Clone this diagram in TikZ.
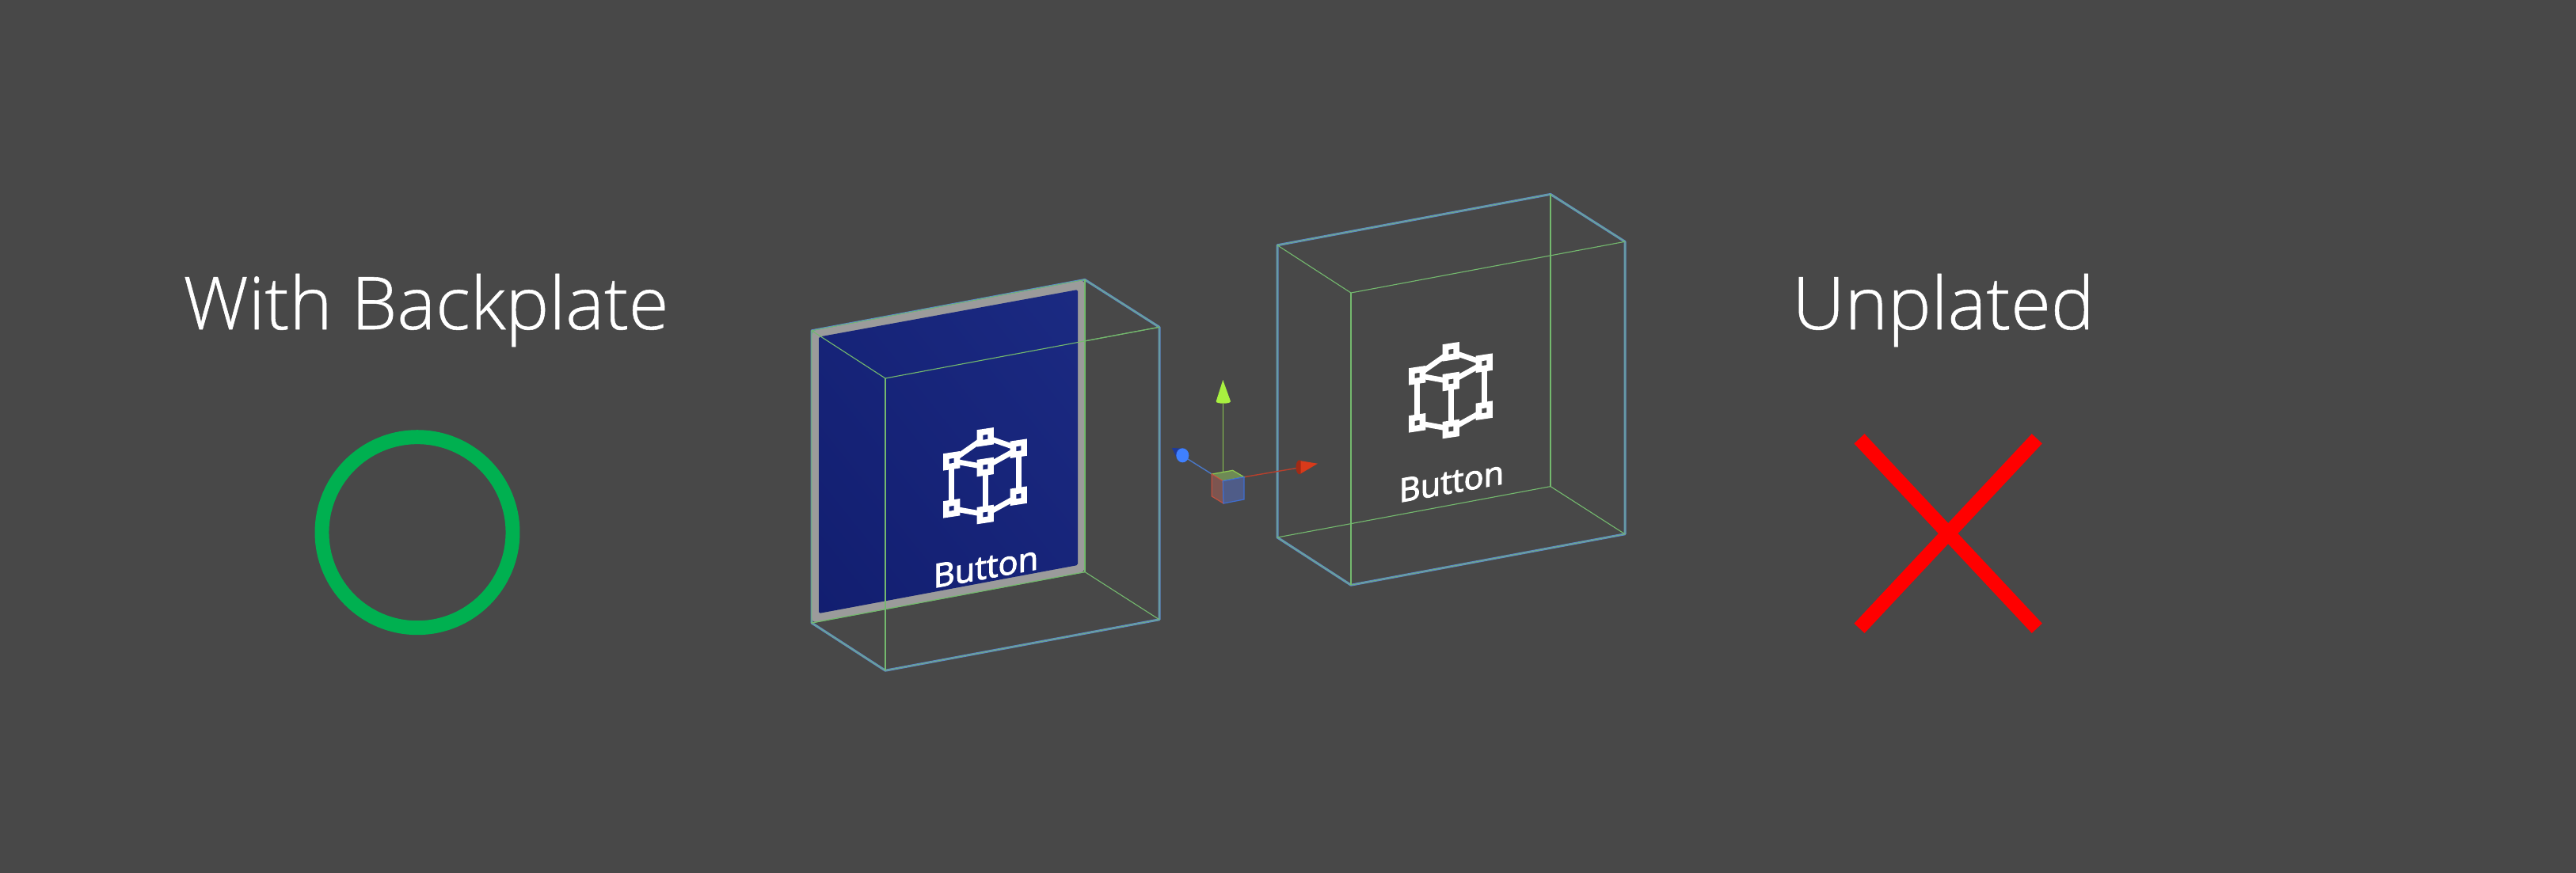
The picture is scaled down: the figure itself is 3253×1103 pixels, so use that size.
\documentclass[tikz,border=0pt]{standalone}
\usepackage{fontspec}
\setmainfont{Open Sans}
\newfontfamily\headfont[FakeBold=0.6]{Open Sans Light}
\newfontfamily\btnfont[FakeBold=2.5]{Open Sans}
\usetikzlibrary{positioning}
\usetikzlibrary{shadings}
\definecolor{bgray}{HTML}{484848}
\definecolor{wiregreen}{HTML}{74B96E}
\definecolor{wireblue}{HTML}{5F8CC4}
\definecolor{rimgray}{HTML}{9B9B9B}
\definecolor{plateup}{HTML}{1B2A82}
\definecolor{platelow}{HTML}{121E70}
\definecolor{okgreen}{HTML}{00B050}
\definecolor{axisred}{HTML}{B8402C}
\definecolor{axisgreen}{HTML}{8CC850}
\definecolor{axisblue}{HTML}{4A78C8}
\definecolor{conered}{HTML}{D83A1A}
\definecolor{basered}{HTML}{A02A15}
\definecolor{conegreen}{HTML}{A8F040}
\definecolor{ballblue}{HTML}{3F80FF}
\definecolor{tailblue}{HTML}{1E3A9A}
\definecolor{facetop}{HTML}{6E8A55}
\definecolor{faceleft}{HTML}{7D5550}
\definecolor{faceright}{HTML}{4F5C88}
\definecolor{edgered}{HTML}{C0503F}
\definecolor{edgeblue}{HTML}{3F6ED0}
\tikzset{
  heading/.style={font=\headfont\fontsize{26.2pt}{32pt}\selectfont,text=white,anchor=base,inner sep=0pt},
  btntext/.style={font=\btnfont\fontsize{11.8pt}{14pt}\selectfont,text=white,anchor=base,inner sep=0pt,yslant=0.18},
  rim/.style={line width=0.85pt,wireblue},
  rimcore/.style={line width=0.18pt,wiregreen},
  wire/.style={line width=0.32pt,wiregreen},
  link/.style={line width=1.9pt,white,shorten >=2.6pt,shorten <=2.6pt},
  handle/.pic={
    \fill[white,even odd rule] (-10.6,-9.1) -- (10.6,-12.3) -- (10.6,9.1) -- (-10.6,12.3) -- cycle
      (-3,-2.5) -- (3,-3.5) -- (3,2.5) -- (-3,3.5) -- cycle;
  },
  wirebox/.pic={
    \coordinate (a) at (1025,417.8);
    \coordinate (b) at (1370,353.4);
    \coordinate (c) at (1464,413.3);
    \coordinate (d) at (1118,478);
    \coordinate (e) at (1025,787);
    \coordinate (f) at (1370,722.6);
    \coordinate (g) at (1464,782.8);
    \coordinate (h) at (1118,847.2);
    \draw[rim,line join=round] (a) -- (b) -- (c) -- (g) -- (h) -- (e) -- cycle;
    \draw[rimcore] (a) -- (b) -- (c) -- (g) -- (h) -- (e) -- cycle;
    \draw[wire] (a) -- (d) -- (c);
    \draw[wire] (e) -- (f) -- (g);
    \draw[wire] (b) -- (f);
    \draw[wire] (d) -- (h);
  },
  cubeicon/.pic={
    \coordinate (k1) at (1244.3,552.3);
    \coordinate (k2) at (1286.3,566.7);
    \coordinate (k3) at (1201.7,582.3);
    \coordinate (k4) at (1244.3,590);
    \coordinate (k5) at (1201.7,642.3);
    \coordinate (k6) at (1244.3,650);
    \coordinate (k7) at (1286.3,626.7);
    \draw[link] (k3) -- (k1);
    \draw[link] (k1) -- (k2);
    \draw[link] (k2) -- (k4);
    \draw[link] (k4) -- (k3);
    \draw[link] (k3) -- (k5);
    \draw[link] (k5) -- (k6);
    \draw[link] (k6) -- (k7);
    \draw[link] (k7) -- (k2);
    \draw[link] (k4) -- (k6);
    \pic at (k1) {handle};
    \pic at (k2) {handle};
    \pic at (k3) {handle};
    \pic at (k4) {handle};
    \pic at (k5) {handle};
    \pic at (k6) {handle};
    \pic at (k7) {handle};
    \node[btntext] (btn) at (1245,731) {Button};
  }
}
\begin{document}
\begin{tikzpicture}[x=0.01cm,y=-0.01cm]
\useasboundingbox (0,0) rectangle (3253,1103);
\fill[bgray] (0,0) rectangle (3253,1103);

\node[heading] (backplate) at (538,416) {With Backplate};
\node[heading] (unplated) at (2454,416) {Unplated};

\draw[okgreen,line width=5.1pt] (527,672.7) circle (120.5);
\draw[red,line width=5.1pt] (2348,554.3) -- (2572.3,793.8);
\draw[red,line width=5.1pt] (2572.3,554.3) -- (2348,793.8);

\pic at (0,0) {wirebox};
\fill[rimgray,rounded corners=1.6pt] (1025.2,418.2) -- (1369.8,354) -- (1369.8,722.8) -- (1025.2,786.6) -- cycle;
\shade[lower left=platelow,upper right=plateup,upper left=platelow!50!plateup,lower right=platelow!50!plateup,rounded corners=0.5pt]
  (1034,425.7) -- (1361,366) -- (1361,714) -- (1034,775) -- cycle;
\draw[rimcore] (e) -- (a) -- (b);
\draw[wire] (a) -- (d) -- (c);
\draw[wire] (e) -- (f);
\draw[wire] (b) -- (f);
\draw[wire] (d) -- (h);
\pic at (0,0) {cubeicon};

\pic at (588,-108) {wirebox};
\pic at (588,-108) {cubeicon};

\draw[axisblue,line width=0.4pt] (1530.3,599) -- (1500,580);
\fill[tailblue] (1480,566) -- (1495,566.7) -- (1485.7,578) -- cycle;
\fill[ballblue] (1493.3,575.3) ellipse (8 and 9);
\draw[axisgreen,line width=0.4pt] (1544.3,607.7) -- (1544.3,510);
\fill[conegreen] (1544.3,480) -- (1554,507) -- (1535.7,507) -- cycle;
\fill[conegreen] (1544.8,507.5) ellipse (9 and 2.2);
\draw[axisred,line width=0.4pt] (1571,602.7) -- (1640,591);
\fill[basered] (1641,590.3) ellipse (4.5 and 9);
\fill[conered] (1664,585.7) -- (1642.7,582.3) -- (1642.7,598.3) -- cycle;

\filldraw[draw=axisgreen,fill=facetop,line width=0.35pt] (1544.3,607.7) -- (1530.3,599) -- (1556.7,594.3) -- (1571,602.7) -- cycle;
\filldraw[draw=edgered,fill=faceleft,line width=0.35pt] (1544.3,607.7) -- (1530.3,599) -- (1530.3,627) -- (1545,636) -- cycle;
\filldraw[draw=edgeblue,fill=faceright,line width=0.35pt] (1544.3,607.7) -- (1571,602.7) -- (1571,631) -- (1545,636) -- cycle;

\end{tikzpicture}
\end{document}
